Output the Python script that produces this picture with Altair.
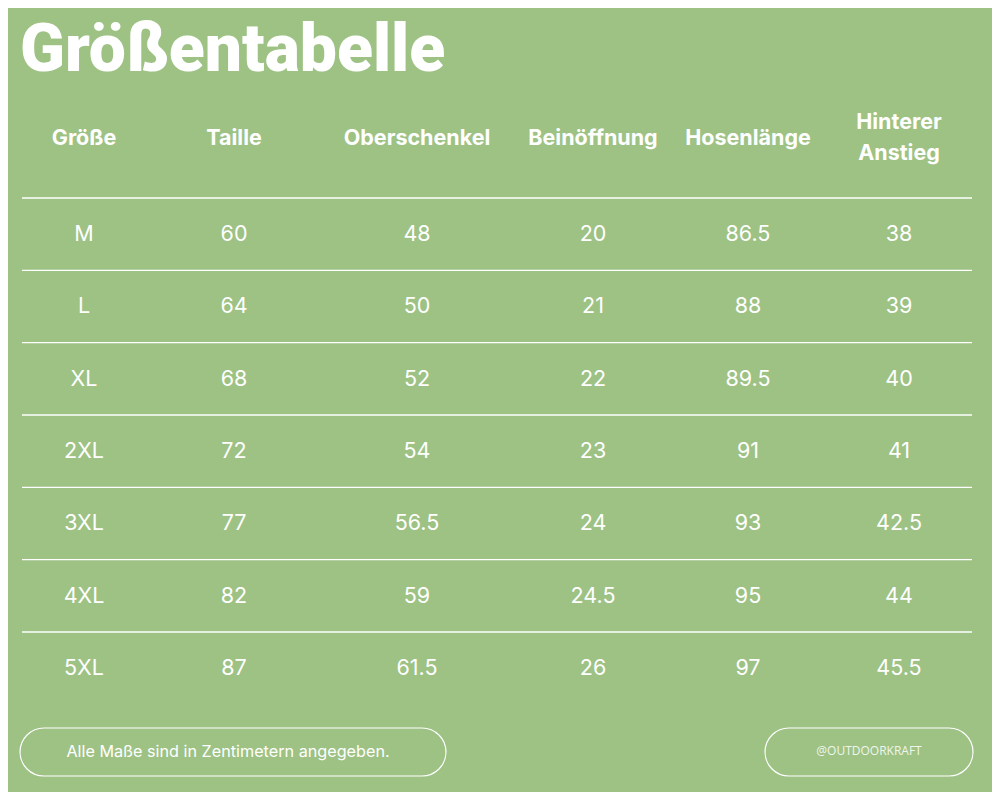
import altair as alt
import pandas as pd

title_text = "Größentabelle"
columns = ["Größe", "Taille", "Oberschenkel", "Beinöffnung", "Hosenlänge", "Hinterer\nAnstieg"]
sizes = ["M", "L", "XL", "2XL", "3XL", "4XL", "5XL"]
taille = [60, 64, 68, 72, 77, 82, 87]
oberschenkel = [48, 50, 52, 54, 56.5, 59, 61.5]
beinoeffnung = [20, 21, 22, 23, 24, 24.5, 26]
hosenlaenge = [86.5, 88, 89.5, 91, 93, 95, 97]
anstieg = [38, 39, 40, 41, 42.5, 44, 45.5]
note_text = "Alle Maße sind in Zentimetern angegeben."
handle_text = "@OUTDOORKRAFT"

BG = "#9DC284"
FONT = "Inter"

# layout (chart coordinates)
col_centers = [76, 226, 409, 585, 740, 891]
row_range = [227, 661]

rows = []
for i, s in enumerate(sizes):
    vals = [s] + [f"{v:g}" for v in (taille[i], oberschenkel[i], beinoeffnung[i], hosenlaenge[i], anstieg[i])]
    for j, v in enumerate(vals):
        rows.append({"row": i, "col": j, "txt": v})
cells = pd.DataFrame(rows)
header = pd.DataFrame({"col": list(range(len(columns))), "txt": columns,
                       "multi": ["\n" in c for c in columns]})
lines = pd.DataFrame({"row": list(range(len(sizes)))})

xscale = alt.Scale(domain=list(range(len(columns))), range=col_centers)
yscale = alt.Scale(domain=[0, len(sizes) - 1], range=row_range, nice=False, zero=False)

title = alt.Chart(pd.DataFrame({"t": [title_text]})).mark_text(
    font="Roboto", fontWeight=900, fontSize=66, color="white", align="left", baseline="alphabetic"
).encode(x=alt.value(12), y=alt.value(63), text="t:N")

head_single = alt.Chart(header).transform_filter("!datum.multi").mark_text(
    font=FONT, fontWeight="bold", fontSize=21.5, color="white", align="center",
    baseline="middle"
).encode(
    x=alt.X("col:Q", scale=xscale, axis=None),
    y=alt.value(131),
    text="txt:N",
)
head_multi = alt.Chart(header).transform_filter("datum.multi").mark_text(
    font=FONT, fontWeight="bold", fontSize=21.5, color="white", align="center",
    baseline="middle", lineBreak="\n", lineHeight=31
).encode(
    x=alt.X("col:Q", scale=xscale, axis=None),
    y=alt.value(115),
    text="txt:N",
)

rules = alt.Chart(lines).mark_rule(color="white", strokeWidth=1.3, yOffset=-37).encode(
    y=alt.Y("row:Q", scale=yscale, axis=None),
    x=alt.value(14), x2=alt.value(964),
)

body = alt.Chart(cells).mark_text(
    font=FONT, fontSize=21.5, color="white", align="center", baseline="middle"
).encode(
    x=alt.X("col:Q", scale=xscale, axis=None),
    y=alt.Y("row:Q", scale=yscale, axis=None),
    text="txt:N",
)

pill_left = alt.Chart(pd.DataFrame({"t": [note_text]})).mark_rect(
    fill=BG, stroke="white", strokeWidth=1.2, cornerRadius=24
).encode(x=alt.value(12), x2=alt.value(438), y=alt.value(720), y2=alt.value(768))
pill_right = alt.Chart(pd.DataFrame({"t": [handle_text]})).mark_rect(
    fill=BG, stroke="white", strokeWidth=1.2, cornerRadius=24
).encode(x=alt.value(757), x2=alt.value(965), y=alt.value(720), y2=alt.value(768))

note = alt.Chart(pd.DataFrame({"t": [note_text]})).mark_text(
    font=FONT, fontSize=16.2, color="white", align="center", baseline="middle"
).encode(x=alt.value(220), y=alt.value(744), text="t:N")
handle = alt.Chart(pd.DataFrame({"t": [handle_text]})).mark_text(
    font="Open Sans", fontSize=12, color="white", opacity=0.85, align="center", baseline="middle"
).encode(x=alt.value(861), y=alt.value(743), text="t:N")

chart = alt.layer(title, head_single, head_multi, rules, body, pill_left, pill_right, note, handle).properties(
    width=984, height=784, background=BG, padding=0, autosize="none"
).configure_view(stroke=None)

chart.save("out.html", embed_options={"renderer": "svg", "actions": False})
